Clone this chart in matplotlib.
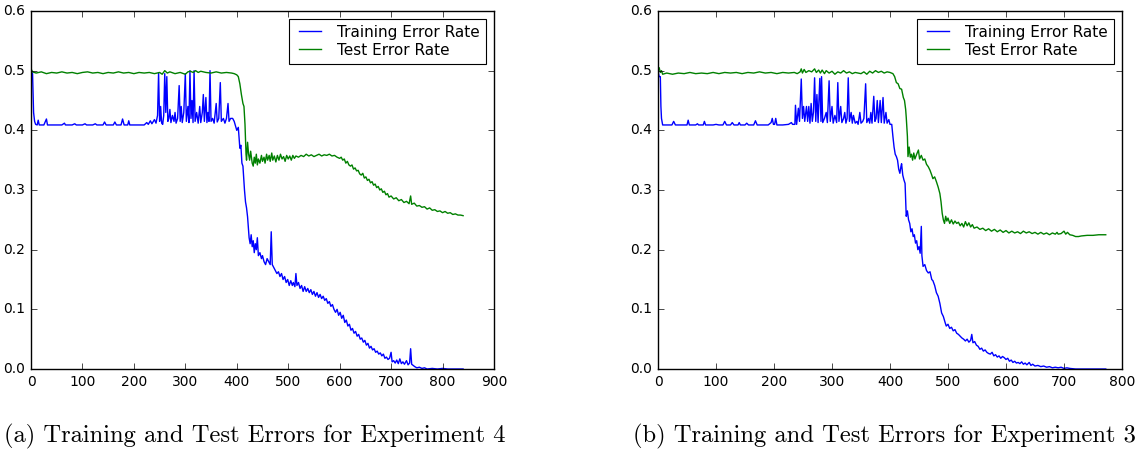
import matplotlib
matplotlib.use("Agg")
import matplotlib.pyplot as plt
import numpy as np

# ---------------- data (epoch, error rate) ----------------
exp4_train = [(0,0.500),(3,0.495),(5,0.43),(7,0.415),(9,0.41),(12,0.409),(14,0.417),(16,0.409),(25,0.409),(30,0.419),(32,0.409),(45,0.409),(60,0.409),(65,0.412),(67,0.409),(80,0.409),(85,0.411),(88,0.409),(100,0.409),(105,0.411),(108,0.409),(120,0.409),(125,0.411),(128,0.409),(140,0.409),(143,0.414),(146,0.409),(160,0.409),(163,0.414),(166,0.409),(175,0.409),(178,0.419),(181,0.409),(188,0.409),(190,0.416),(192,0.409),(210,0.409),(220,0.409),(225,0.413),(228,0.410),(232,0.416),(235,0.411),(240,0.418),(243,0.412),(246,0.425),(248,0.496),(250,0.415),(252,0.44),(254,0.412),(256,0.41),(258,0.425),(260,0.495),(262,0.43),(264,0.49),(266,0.415),(268,0.42),(270,0.435),(272,0.413),(275,0.425),(278,0.415),(280,0.43),(282,0.412),(285,0.42),(288,0.475),(290,0.415),(292,0.44),(294,0.413),(297,0.43),(300,0.495),(302,0.415),(305,0.44),(307,0.413),(309,0.5),(311,0.42),(313,0.45),(315,0.413),(317,0.5),(319,0.415),(322,0.43),(325,0.412),(328,0.44),(330,0.413),(333,0.43),(335,0.46),(337,0.415),(340,0.455),(342,0.413),(344,0.43),(346,0.415),(348,0.5),(350,0.415),(353,0.42),(356,0.412),(360,0.445),(362,0.414),(365,0.42),(368,0.48),(370,0.415),(374,0.42),(377,0.412),(380,0.42),(383,0.445),(385,0.415),(388,0.42),(392,0.42),(395,0.415),(400,0.40),(403,0.405),(406,0.37),(408,0.375),(410,0.345),(412,0.34),(415,0.30),(417,0.28),(419,0.27),(421,0.255),(424,0.22),(426,0.21),(428,0.225),(430,0.205),(432,0.215),(434,0.195),(436,0.21),(438,0.2),(440,0.22),(442,0.19),(445,0.195),(448,0.185),(450,0.19),(453,0.18),(456,0.175),(459,0.185),(462,0.18),(465,0.175),(467,0.23),(469,0.175),(472,0.17),(475,0.165),(478,0.16),(481,0.163),(484,0.155),(487,0.16),(490,0.15),(493,0.155),(496,0.145),(499,0.15),(502,0.14),(505,0.148),(508,0.14),(510,0.145),(513,0.138),(515,0.16),(517,0.14),(520,0.145),(523,0.135),(526,0.14),(529,0.13),(532,0.138),(535,0.13),(538,0.135),(541,0.128),(544,0.133),(547,0.125),(550,0.13),(553,0.122),(556,0.128),(559,0.12),(562,0.125),(565,0.118),(568,0.122),(571,0.115),(574,0.118),(577,0.11),(580,0.113),(583,0.105),(586,0.108),(589,0.1),(592,0.095),(595,0.1),(598,0.09),(601,0.095),(604,0.085),(607,0.09),(610,0.078),(613,0.082),(616,0.072),(619,0.075),(622,0.065),(625,0.068),(628,0.06),(631,0.063),(634,0.055),(637,0.058),(640,0.05),(643,0.052),(646,0.045),(649,0.048),(652,0.04),(655,0.043),(658,0.035),(661,0.038),(664,0.032),(667,0.034),(670,0.028),(673,0.03),(676,0.025),(679,0.027),(682,0.022),(685,0.025),(688,0.018),(691,0.02),(694,0.016),(697,0.018),(700,0.028),(702,0.012),(705,0.014),(708,0.01),(711,0.015),(714,0.009),(717,0.017),(720,0.009),(723,0.012),(726,0.008),(730,0.014),(733,0.007),(736,0.01),(738,0.034),(740,0.008),(743,0.006),(746,0.004),(750,0.002),(755,0.003),(760,0.001),(765,0.002),(770,0.0),(780,0.001),(790,0.0),(800,0.001),(810,0.0),(820,0.0),(840,0.0)]

exp4_test = [(0,0.503),(3,0.498),(10,0.496),(20,0.498),(30,0.495),(40,0.497),(50,0.496),(60,0.498),(70,0.496),(80,0.497),(90,0.495),(100,0.497),(110,0.498),(120,0.496),(130,0.497),(140,0.495),(150,0.497),(160,0.496),(170,0.498),(180,0.496),(190,0.497),(200,0.495),(210,0.497),(220,0.496),(230,0.497),(240,0.495),(250,0.497),(255,0.494),(260,0.5),(265,0.496),(270,0.498),(280,0.495),(290,0.497),(300,0.494),(305,0.498),(310,0.499),(315,0.497),(320,0.5),(325,0.497),(330,0.499),(340,0.497),(350,0.496),(360,0.498),(370,0.496),(380,0.497),(390,0.496),(395,0.495),(400,0.493),(403,0.49),(406,0.478),(409,0.46),(412,0.445),(414,0.44),(416,0.41),(418,0.36),(419,0.35),(421,0.38),(423,0.36),(425,0.35),(427,0.365),(430,0.345),(432,0.34),(434,0.355),(436,0.345),(438,0.36),(440,0.342),(442,0.352),(445,0.345),(448,0.358),(450,0.348),(453,0.355),(455,0.345),(458,0.36),(460,0.35),(463,0.358),(465,0.348),(468,0.362),(470,0.35),(473,0.357),(476,0.347),(479,0.358),(482,0.35),(485,0.36),(488,0.352),(491,0.356),(494,0.348),(497,0.358),(500,0.352),(503,0.357),(506,0.35),(509,0.358),(512,0.353),(515,0.357),(520,0.355),(525,0.358),(530,0.356),(535,0.36),(540,0.357),(545,0.359),(550,0.356),(555,0.358),(560,0.36),(565,0.357),(570,0.359),(575,0.358),(580,0.36),(585,0.357),(590,0.358),(595,0.355),(600,0.353),(603,0.355),(606,0.35),(609,0.352),(612,0.345),(615,0.348),(618,0.342),(621,0.34),(624,0.342),(627,0.335),(630,0.337),(633,0.332),(636,0.333),(639,0.327),(642,0.325),(645,0.328),(648,0.32),(651,0.322),(654,0.316),(657,0.318),(660,0.312),(663,0.314),(666,0.308),(669,0.31),(672,0.304),(675,0.306),(678,0.3),(681,0.302),(684,0.296),(687,0.298),(690,0.292),(693,0.294),(696,0.288),(700,0.29),(705,0.285),(710,0.287),(715,0.282),(720,0.284),(725,0.279),(730,0.281),(735,0.277),(738,0.29),(740,0.276),(745,0.278),(750,0.273),(755,0.274),(760,0.271),(765,0.272),(770,0.268),(775,0.27),(780,0.266),(785,0.267),(790,0.264),(795,0.265),(800,0.262),(805,0.264),(810,0.261),(815,0.262),(820,0.259),(825,0.26),(830,0.258),(835,0.258),(840,0.257)]

exp3_train = [(0,0.5),(2,0.49),(4,0.49),(5,0.44),(6,0.42),(8,0.409),(15,0.409),(20,0.409),(24,0.409),(27,0.415),(30,0.409),(40,0.409),(50,0.409),(52,0.417),(54,0.409),(65,0.409),(68,0.411),(70,0.409),(78,0.409),(80,0.415),(82,0.409),(95,0.409),(100,0.41),(105,0.409),(112,0.409),(115,0.415),(118,0.409),(125,0.409),(128,0.413),(131,0.409),(138,0.409),(140,0.413),(142,0.409),(150,0.409),(153,0.412),(156,0.409),(165,0.409),(168,0.416),(171,0.409),(180,0.409),(190,0.409),(195,0.413),(197,0.42),(199,0.41),(201,0.41),(203,0.42),(205,0.409),(215,0.409),(225,0.41),(230,0.413),(232,0.41),(236,0.41),(237,0.442),(239,0.41),(242,0.437),(244,0.415),(247,0.486),(249,0.42),(251,0.44),(253,0.415),(256,0.44),(258,0.415),(260,0.44),(262,0.412),(264,0.445),(266,0.415),(268,0.43),(270,0.488),(272,0.415),(274,0.46),(276,0.413),(279,0.487),(281,0.415),(282,0.49),(284,0.413),(287,0.42),(290,0.43),(292,0.413),(295,0.483),(297,0.415),(300,0.44),(302,0.412),(305,0.425),(308,0.413),(310,0.48),(312,0.415),(315,0.44),(317,0.413),(320,0.42),(322,0.43),(324,0.412),(326,0.42),(328,0.488),(330,0.415),(333,0.43),(335,0.412),(337,0.425),(340,0.412),(343,0.415),(345,0.41),(348,0.43),(350,0.412),(353,0.415),(355,0.42),(358,0.478),(360,0.413),(363,0.42),(365,0.412),(367,0.43),(369,0.412),(372,0.457),(374,0.415),(376,0.42),(378,0.45),(380,0.413),(383,0.45),(385,0.413),(388,0.455),(390,0.412),(393,0.43),(395,0.412),(398,0.418),(400,0.41),(403,0.41),(405,0.39),(407,0.372),(409,0.36),(411,0.356),(413,0.35),(415,0.335),(417,0.328),(419,0.34),(420,0.344),(422,0.325),(424,0.317),(426,0.311),(428,0.256),(430,0.265),(432,0.25),(434,0.244),(436,0.23),(438,0.235),(440,0.222),(442,0.225),(444,0.211),(446,0.215),(448,0.2),(450,0.205),(452,0.194),(454,0.239),(455,0.19),(457,0.172),(460,0.175),(463,0.165),(466,0.161),(469,0.163),(472,0.15),(474,0.148),(477,0.14),(480,0.128),(483,0.122),(486,0.11),(489,0.094),(492,0.088),(495,0.078),(497,0.072),(500,0.075),(503,0.068),(506,0.07),(509,0.064),(512,0.066),(515,0.06),(518,0.058),(521,0.055),(524,0.052),(527,0.05),(530,0.047),(533,0.05),(536,0.045),(539,0.048),(541,0.058),(543,0.044),(546,0.046),(549,0.04),(552,0.038),(555,0.033),(558,0.035),(561,0.03),(564,0.032),(567,0.028),(570,0.026),(573,0.025),(576,0.028),(579,0.022),(582,0.024),(585,0.02),(588,0.022),(591,0.018),(594,0.021),(597,0.019),(600,0.016),(603,0.018),(606,0.013),(609,0.015),(612,0.011),(615,0.013),(618,0.01),(621,0.011),(624,0.009),(627,0.012),(630,0.008),(633,0.01),(636,0.007),(640,0.011),(643,0.006),(646,0.008),(650,0.005),(655,0.006),(660,0.004),(665,0.005),(670,0.003),(675,0.004),(680,0.002),(685,0.003),(690,0.002),(695,0.003),(700,0.001),(705,0.002),(710,0.001),(720,0.0),(740,0.0),(760,0.0),(772,0.0)]

exp3_test = [(0,0.5),(2,0.505),(4,0.497),(6,0.5),(8,0.494),(15,0.496),(25,0.494),(35,0.496),(45,0.495),(55,0.497),(65,0.495),(75,0.496),(85,0.495),(95,0.497),(105,0.495),(115,0.497),(125,0.496),(135,0.497),(145,0.495),(155,0.497),(165,0.496),(175,0.498),(185,0.496),(195,0.497),(205,0.495),(215,0.497),(225,0.496),(235,0.497),(240,0.495),(245,0.498),(247,0.503),(249,0.496),(252,0.502),(255,0.497),(260,0.5),(265,0.498),(270,0.503),(273,0.497),(277,0.501),(280,0.496),(283,0.501),(287,0.495),(290,0.5),(295,0.496),(300,0.499),(305,0.494),(310,0.498),(315,0.496),(320,0.5),(325,0.496),(330,0.498),(335,0.495),(340,0.497),(350,0.495),(355,0.498),(360,0.494),(365,0.499),(370,0.496),(375,0.5),(380,0.497),(385,0.499),(390,0.496),(395,0.498),(400,0.497),(405,0.495),(408,0.49),(411,0.48),(414,0.478),(417,0.47),(420,0.469),(423,0.455),(425,0.45),(427,0.435),(428,0.422),(430,0.39),(431,0.356),(433,0.372),(435,0.355),(437,0.36),(439,0.35),(441,0.362),(443,0.352),(446,0.36),(449,0.367),(451,0.352),(454,0.358),(457,0.35),(460,0.352),(463,0.343),(466,0.339),(469,0.333),(472,0.325),(474,0.319),(477,0.322),(480,0.314),(483,0.305),(486,0.294),(488,0.28),(490,0.261),(492,0.25),(494,0.244),(496,0.256),(498,0.248),(500,0.253),(503,0.244),(506,0.25),(509,0.243),(512,0.248),(515,0.244),(518,0.246),(521,0.24),(524,0.244),(527,0.238),(530,0.247),(533,0.24),(536,0.245),(539,0.238),(542,0.242),(545,0.236),(550,0.238),(555,0.234),(560,0.236),(565,0.232),(570,0.235),(575,0.231),(580,0.234),(585,0.23),(590,0.233),(595,0.229),(600,0.232),(605,0.228),(610,0.231),(615,0.228),(620,0.23),(625,0.227),(630,0.231),(635,0.228),(640,0.23),(645,0.227),(650,0.229),(655,0.226),(660,0.229),(665,0.226),(670,0.228),(675,0.225),(680,0.228),(685,0.226),(688,0.229),(690,0.226),(695,0.227),(700,0.231),(703,0.226),(706,0.229),(710,0.225),(715,0.224),(720,0.222),(725,0.222),(730,0.223),(740,0.224),(750,0.224),(760,0.225),(772,0.225)]

series_labels = ["Training Error Rate", "Test Error Rate"]
captions = ["(a) Training and Test Errors for Experiment 4",
            "(b) Training and Test Errors for Experiment 3"]
xmax = [900, 800]
xticks = [list(range(0, 901, 100)), list(range(0, 801, 100))]
yticks = [0.0, 0.1, 0.2, 0.3, 0.4, 0.5, 0.6]
# ------------------------------------------------------------------------------

plt.style.use("classic")
plt.rcParams["figure.facecolor"] = "white"
plt.rcParams["savefig.facecolor"] = "white"
plt.rcParams["font.family"] = ["DejaVu Sans"]

fig = plt.figure(figsize=(11.4, 4.58), dpi=100)
positions = [[0.0272, 0.1943, 0.4061, 0.7817], [0.5772, 0.1943, 0.4070, 0.7817]]
caption_x = [255 / 1140, 884 / 1140]
panels = [(exp4_train, exp4_test), (exp3_train, exp3_test)]

for i, (train, test) in enumerate(panels):
    ax = fig.add_axes(positions[i])
    tx, ty = zip(*train)
    vx, vy = zip(*test)
    ax.plot(tx, ty, color="b", lw=1.0, label=series_labels[0])
    ax.plot(vx, vy, color="g", lw=1.0, label=series_labels[1])
    ax.set_xlim(0, xmax[i])
    ax.set_ylim(0, 0.6)
    ax.set_xticks(xticks[i])
    ax.set_yticks(yticks)
    ax.set_yticklabels([f"{v:.1f}" for v in yticks])
    ax.tick_params(labelsize=10, direction="in", top=True, right=True)
    leg = ax.legend(loc="upper right", fontsize=11, handlelength=2.0,
                    handletextpad=0.8, borderpad=0.4,
                    borderaxespad=0.5, labelspacing=0.2)
    leg.get_frame().set_linewidth(0.8)
    fig.text(caption_x[i], 0.046, captions[i], ha="center", va="center",
             family="cmr10", fontsize=17.7)

fig.savefig("out.png", dpi=100)
